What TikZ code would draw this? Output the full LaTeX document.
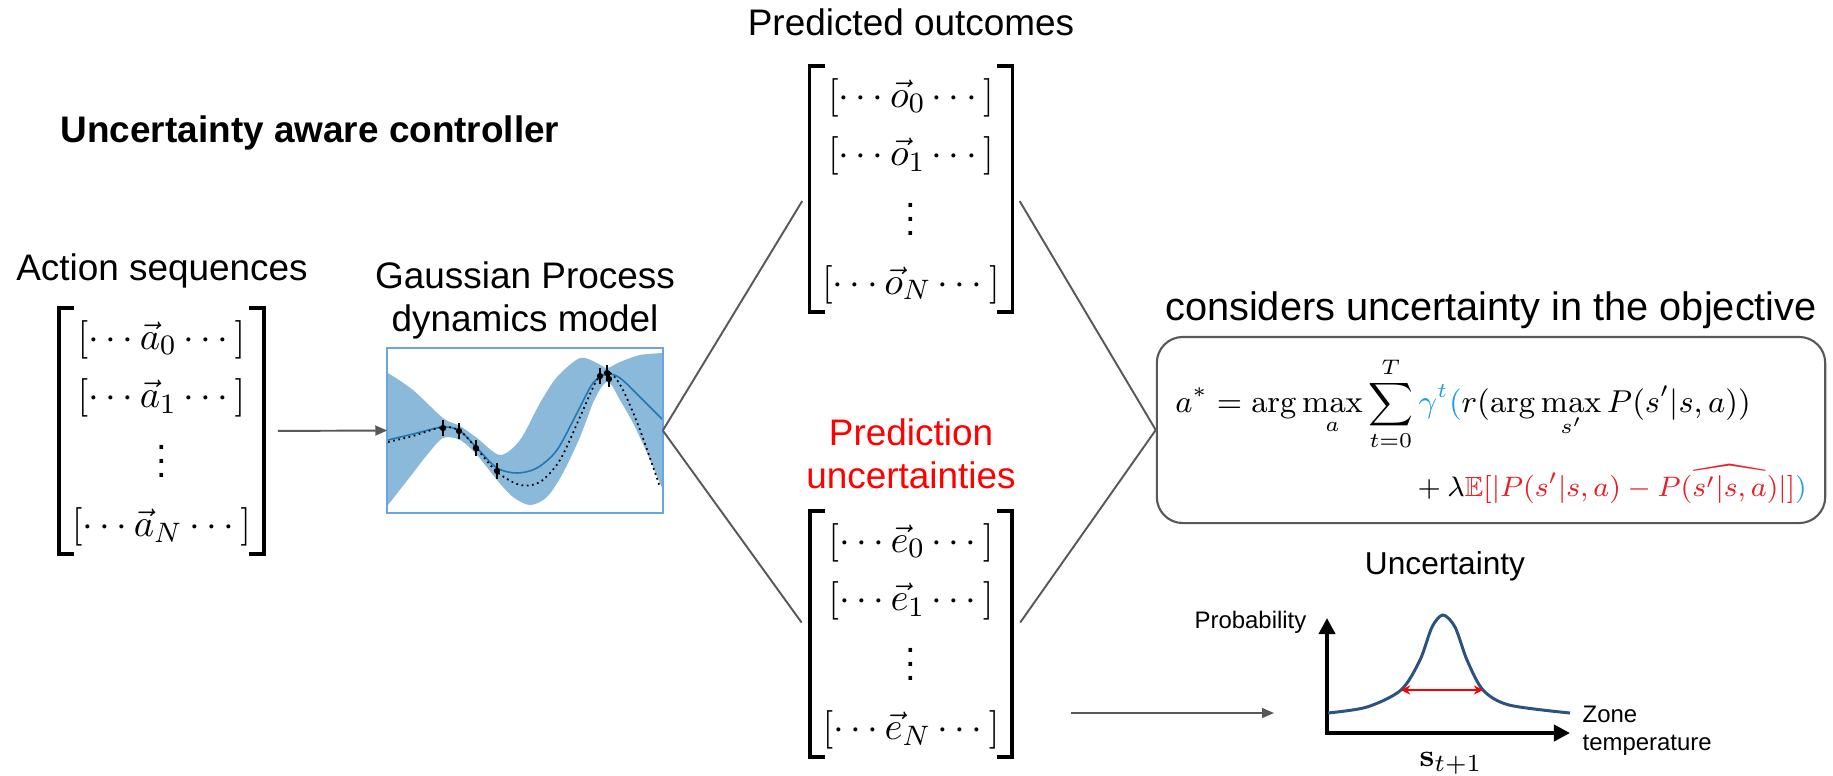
\documentclass[tikz,border=0pt]{standalone}
\usepackage[no-math]{fontspec}
\setmainfont{Liberation Sans}
\usepackage{amsmath,amssymb}
\usetikzlibrary{calc, positioning, arrows.meta}

\definecolor{gpband}{RGB}{139,185,217}
\definecolor{gpmean}{RGB}{31,119,180}
\definecolor{gpframe}{RGB}{105,165,225}
\definecolor{lnkgray}{RGB}{88,88,88}
\definecolor{eqblue}{RGB}{32,160,224}
\definecolor{eqred}{RGB}{230,32,40}
\definecolor{pdfblue}{RGB}{44,82,128}

\begin{document}
\begin{tikzpicture}[x=0.01cm, y=-0.01cm,
    ttl/.style={font=\fontsize{10.5}{12.2}\selectfont, align=center, inner sep=0pt},
    axlbl/.style={font=\fontsize{6.8}{8}\selectfont, align=left, inner sep=0pt},
    mbox/.style={font=\fontsize{10.8}{13}\selectfont, inner xsep=3.4pt, inner ysep=0pt, minimum width=1.93cm, minimum height=2.28cm, execute at begin node={\def\arraystretch{1.27}}},
    brk/.style={line width=1.1pt, line cap=butt, line join=miter},
    lnk/.style={draw=lnkgray, line width=0.55pt},
    flw/.style={lnk, -{Triangle[length=3.4pt, width=2.8pt]}},
    axl/.style={line width=1.1pt, {Triangle[length=4.6pt, width=4.6pt]}-{Triangle[length=4.6pt, width=4.6pt]}},
]
\useasboundingbox (0,0) rectangle (1833,775);

% === Title ===
\node[ttl, font=\fontsize{10.5}{12}\selectfont\bfseries, anchor=base west] (title) at (60,142) {Uncertainty aware controller};

% === Action sequences ===
\node[ttl, anchor=base] (alabel) at (162,280) {Action sequences};
\node[mbox] (amat) at (161.5,431) {$\begin{array}{@{}c@{}}
    [\cdots\vec{a}_0\cdots]\\ \relax
    [\cdots\vec{a}_1\cdots]\\
    \vdots\\ \relax
    [\cdots\vec{a}_N\cdots]
\end{array}$};

% === GP dynamics model ===
\node[ttl] (gplabel) at (525,300) {Gaussian Process\\dynamics model};
\node[minimum width=2.74cm, minimum height=1.63cm, inner sep=0pt] (gp) at (525,430.5) {};
\begin{scope}
    \clip (gp.north west) rectangle (gp.south east);
    \fill[gpband] plot[smooth] coordinates {(388,373) (413,390) (443,418) (460,426) (477,438) (500,455) (520,440) (540,403) (557,377) (580,358) (597,363) (607,368) (620,362) (640,355) (663,353)}
        -- plot[smooth] coordinates {(663,490) (647,453) (633,423) (620,400) (610,383) (603,385) (593,403) (580,437) (563,473) (547,497) (530,505) (513,497) (497,480) (477,455) (460,440) (443,438) (427,455) (413,473) (388,505)} -- cycle;
    \draw[gpmean, line width=0.45pt] plot[smooth] coordinates {(388,440) (413,434) (443,427) (460,431) (477,448) (497,468) (517,473) (537,468) (557,450) (577,413) (593,383) (607,374) (620,378) (640,397) (663,420)};
    \draw[densely dotted, line width=0.5pt] plot[smooth] coordinates {(388,442) (413,436) (443,427) (460,431) (477,449) (497,472) (520,485) (540,482) (560,460) (580,417) (597,380) (610,373) (623,390) (640,430) (660,487)};
\end{scope}
\foreach \px/\py in {443/428, 459/431, 476/448, 497/471, 600/376, 607/373, 609/379} {
    \fill (\px,\py) circle[radius=0.9pt];
    \draw[line width=0.45pt] (\px,\py-8) -- (\px,\py+8);
}
\draw[gpframe, line width=0.6pt] (gp.north west) rectangle (gp.south east);

% === Predicted outcomes ===
\node[ttl, anchor=base] (olabel) at (911,35) {Predicted outcomes};
\node[mbox] (omat) at (911,189) {$\begin{array}{@{}c@{}}
    [\cdots\vec{o}_0\cdots]\\ \relax
    [\cdots\vec{o}_1\cdots]\\
    \vdots\\ \relax
    [\cdots\vec{o}_N\cdots]
\end{array}$};

% === Prediction uncertainties ===
\node[ttl, text=red] (elabel) at (911,454) {Prediction\\uncertainties};
\node[mbox] (emat) at (911,634) {$\begin{array}{@{}c@{}}
    [\cdots\vec{e}_0\cdots]\\ \relax
    [\cdots\vec{e}_1\cdots]\\
    \vdots\\ \relax
    [\cdots\vec{e}_N\cdots]
\end{array}$};

% outer brackets of the three sequence matrices
\foreach \m in {amat, omat, emat} {
    \draw[brk] ([xshift=0.15cm]\m.north west) -- (\m.north west) -- (\m.south west) -- ([xshift=0.15cm]\m.south west);
    \draw[brk] ([xshift=-0.15cm]\m.north east) -- (\m.north east) -- (\m.south east) -- ([xshift=-0.15cm]\m.south east);
}

% === Objective ===
\node[ttl, font=\fontsize{11.3}{13}\selectfont, anchor=base] (objlabel) at (1491,320) {considers uncertainty in the objective};
\node[draw=lnkgray, line width=0.6pt, rounded corners=0.26cm, align=left, text width=6.31cm, inner xsep=0.185cm, inner ysep=0pt, minimum height=1.86cm, font=\fontsize{8.6}{10.3}\selectfont] (obj) at (1491,430) {%
    $\displaystyle a^* = \arg\max_a \sum_{t=0}^{T} {\color{eqblue}\gamma^t(} r(\arg\max_{s'} P(s'|s,a))$\\[3pt]
    \makebox[\linewidth][r]{\fontsize{7.9}{9.5}\selectfont$\displaystyle {}+\lambda {\color{eqred}\mathbb{E}[|P(s'|s,a)-P(\widehat{s'|s,a})|]}{\color{eqblue})}$}
};

% connectors
\draw[flw, shorten <=4pt] (amat.east) -- (gp.west);
\draw[lnk, shorten >=4pt] (gp.east) -- (omat.west);
\draw[lnk, shorten >=4pt] (gp.east) -- (emat.west);
\draw[lnk, shorten <=4pt] (omat.east) -- (obj.west);
\draw[lnk, shorten <=4pt] (emat.east) -- (obj.west);

% === Uncertainty plot ===
\node[ttl, font=\fontsize{9}{10}\selectfont] (unclabel) at (1445,566) {Uncertainty};
\coordinate (org) at (1327,733);
\draw[axl] (1327,618) -- (org) -- (1570,733);
\draw[pdfblue, line width=0.85pt] plot[smooth] coordinates {(1328,713) (1367,707) (1401,690) (1420,660) (1432,627) (1443,615) (1455,627) (1467,660) (1483,690) (1509,705) (1570,713)};
\draw[red, line width=0.6pt, {Stealth[length=2.6pt, width=2.6pt]}-{Stealth[length=2.6pt, width=2.6pt]}] (1401,690) -- (1483,690);
\node[axlbl, anchor=east] (problabel) at (1307,622) {Probability};
\node[axlbl, anchor=west] (zonelabel) at (1582,731) {Zone\\temperature};
\node[font=\fontsize{9.5}{11}\selectfont, inner sep=0pt] (slabel) at (1451,763) {$\mathbf{s}_{t+1}$};

\coordinate (uout) at ($(emat.east)+(59,79)$);
\coordinate (pdfin) at (1274,713);
\draw[flw] (uout) -- (pdfin);
\end{tikzpicture}
\end{document}
